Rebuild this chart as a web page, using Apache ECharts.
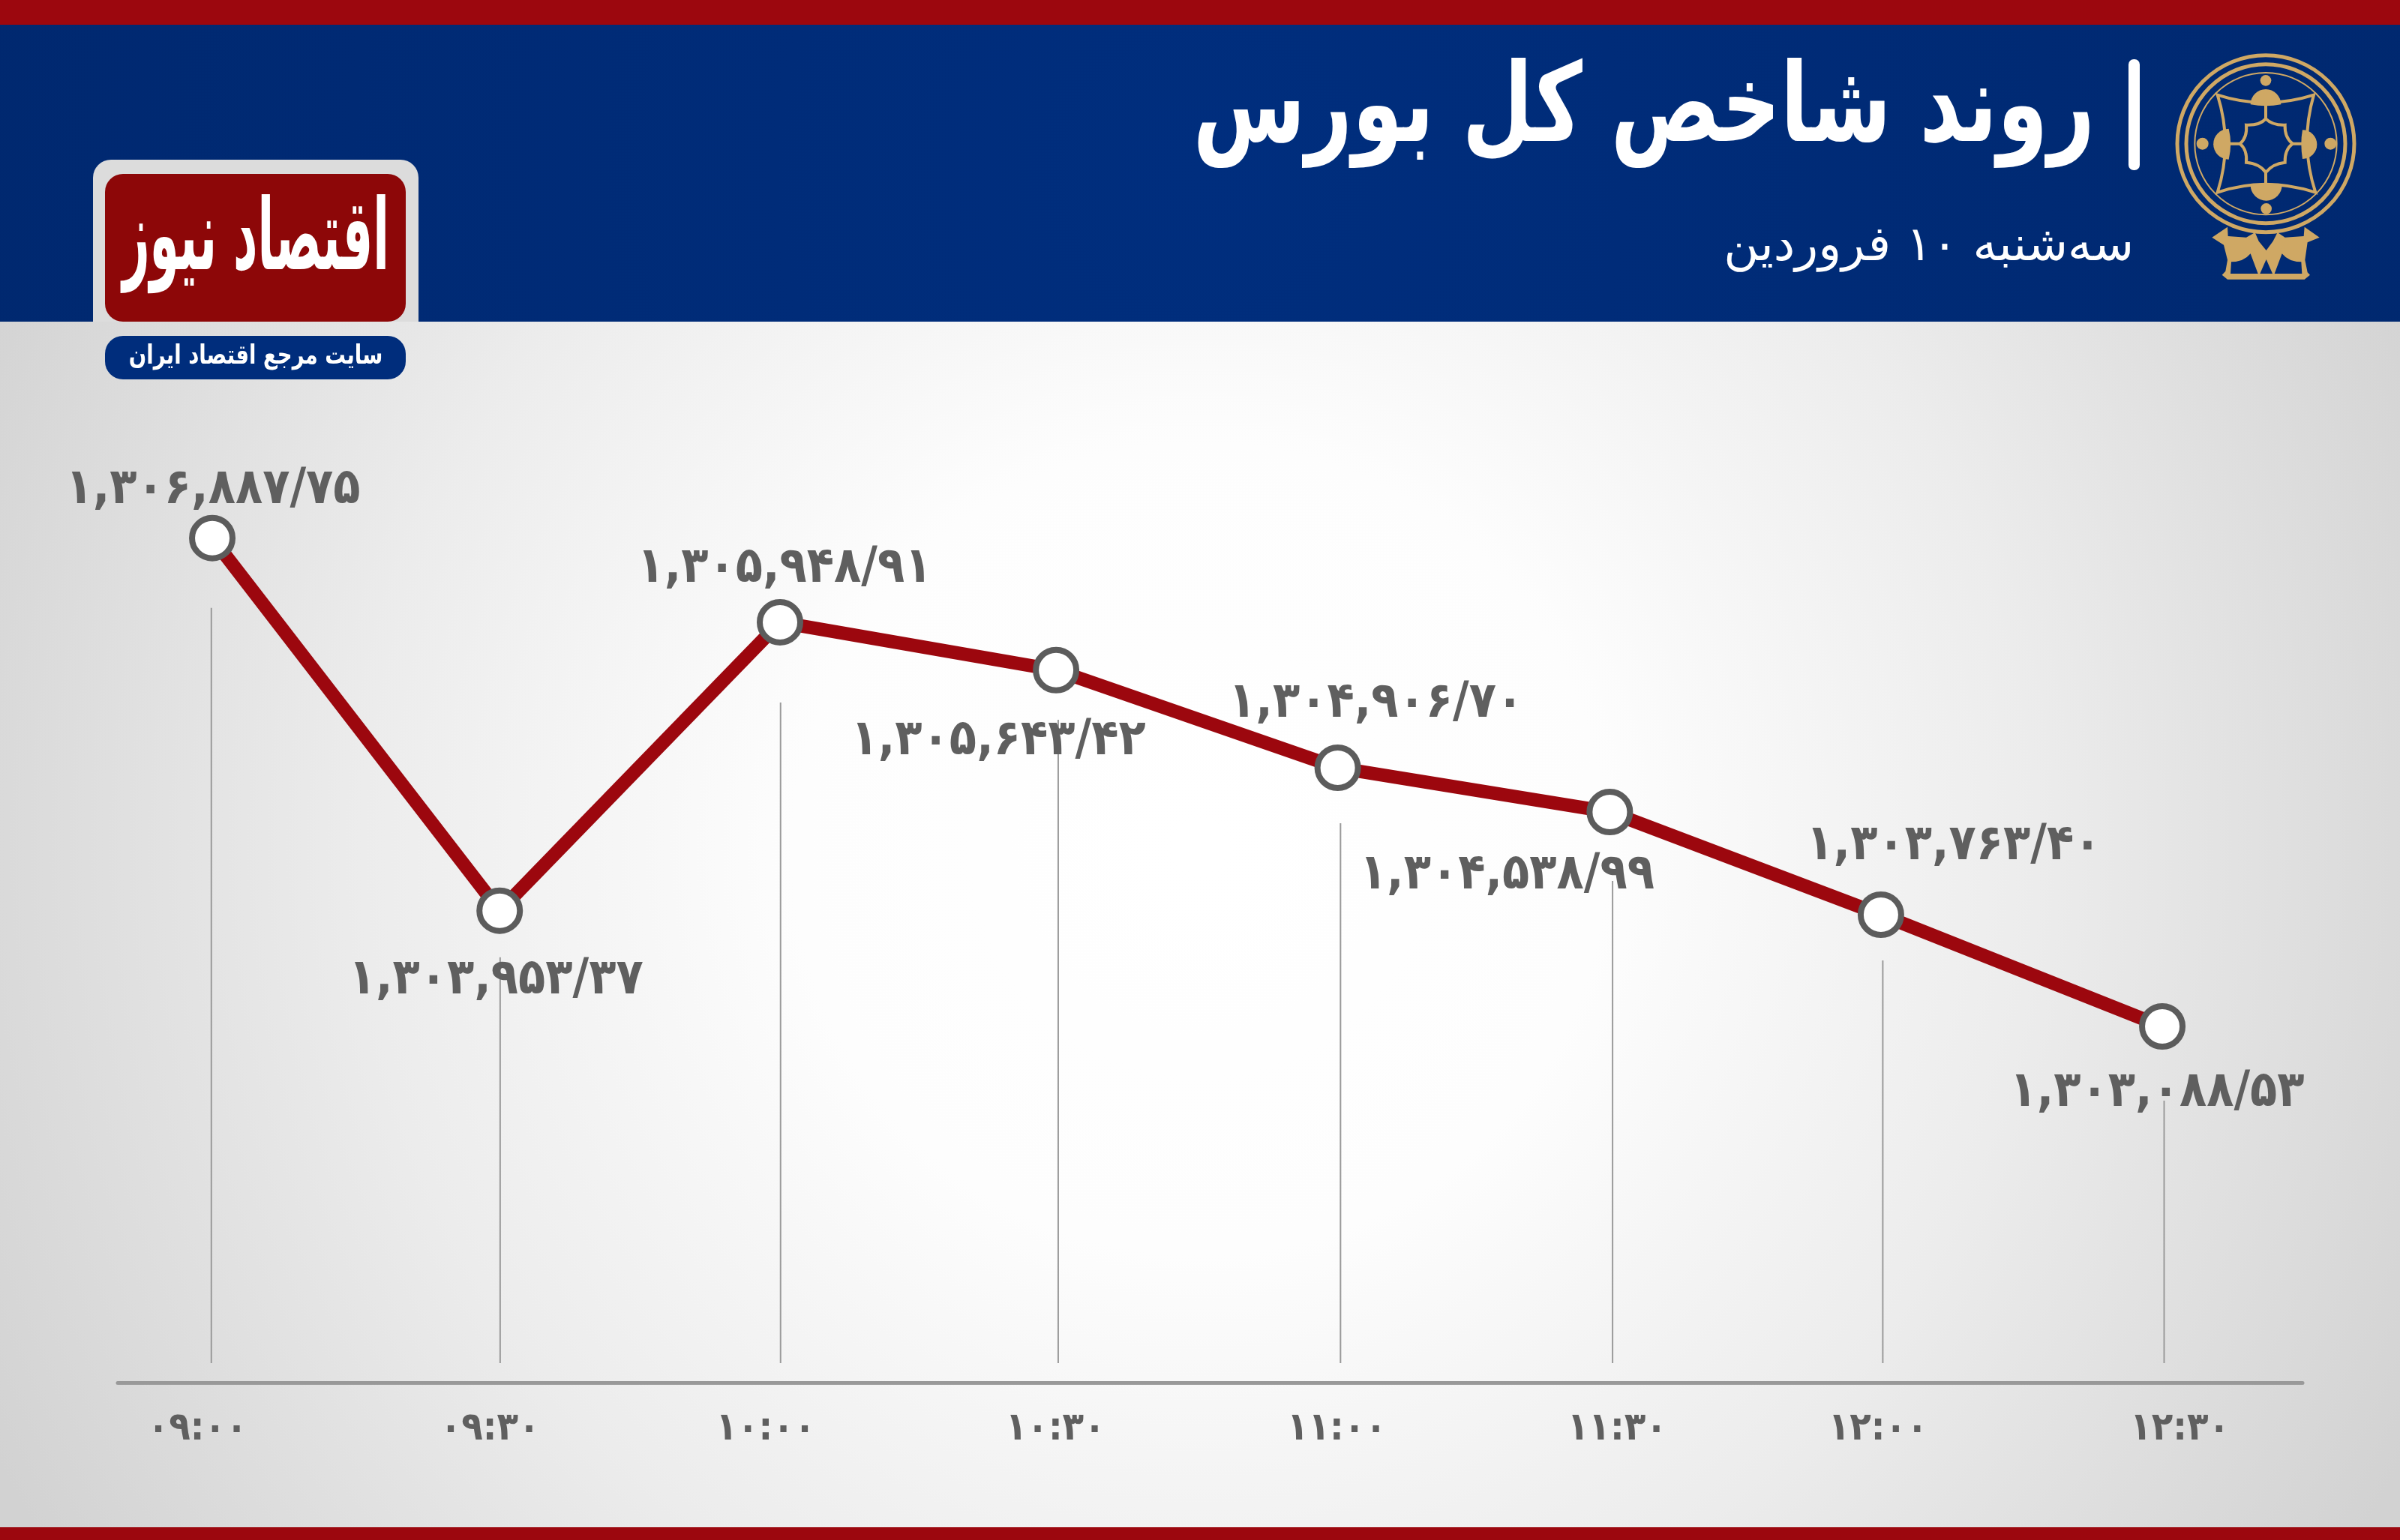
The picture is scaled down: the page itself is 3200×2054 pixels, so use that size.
<!DOCTYPE html>
<html><head><meta charset="utf-8">
<style>html,body{margin:0;padding:0;background:#fff}#c{width:3200px;height:2054px}</style>
<script src="https://cdn.jsdelivr.net/npm/echarts@6/dist/echarts.min.js"></script>
</head><body><div id="c"></div>
<script>
// Tick labels and printed values, as written on the picture
const tickLabels = ['۰۹:۰۰','۰۹:۳۰','۱۰:۰۰','۱۰:۳۰','۱۱:۰۰','۱۱:۳۰','۱۲:۰۰','۱۲:۳۰'];
const printedValues = ['۱,۳۰۶,۸۸۷/۷۵','۱,۳۰۳,۹۵۳/۳۷','۱,۳۰۵,۹۴۸/۹۱','۱,۳۰۵,۶۴۳/۴۲','۱,۳۰۴,۹۰۶/۷۰','۱,۳۰۴,۵۳۸/۹۹','۱,۳۰۳,۷۶۳/۴۰','۱,۳۰۳,۰۸۸/۵۳'];
// The picture's line is not drawn to a strict scale: these are the levels and
// times as drawn, read against the first and last printed values.
const drawnMinutes = [0, 30.95, 61.14, 90.87, 121.2, 150.5, 179.7, 210];
const drawnLevels = [1306887.75, 1303989, 1306233, 1305861, 1305101, 1304757, 1303958, 1303088.53];
const guideMinutes = [-0.1, 31.0, 61.2, 91.1, 121.5, 150.8, 179.9, 210.2];
const guideTops = [1306345, 1303627, 1305608, 1305474, 1304669, 1304220, 1303602, 1302511];
const guideBottom = 1300469;
const tickMinutes = [-1.6, 29.9, 59.6, 90.8, 121.1, 151.3, 179.4, 211.9];
const tickRaised = [true, false, false, true, true, true, true, false];

const titleText = 'روند شاخص کل بورس';
const subtitleText = '\u202Bسه‌شنبه ۱۰ فروردین\u202C';
const logoText = 'اقتصاد نیوز';
const sloganText = 'سایت مرجع اقتصاد ایران';

const labelOffsets = [[1,-64],[-5,93],[6,-71],[-77,95],[51,-85],[-137,85],[97,-91],[-7,89]];
const FONT = '"DejaVu Sans Condensed","DejaVu Sans",sans-serif';
const GOLD = '#cfa864', NAVY = '#002a74', RED = '#9c070e', GREY = '#5f5f5f';

const chart = echarts.init(document.getElementById('c'), null, {renderer:'canvas', width:3200, height:2054, devicePixelRatio:1});

let pathCount = 0;
function pathEl(d, style){
  const name = 'emblemPath' + (pathCount++);
  echarts.graphic.registerShape(name, echarts.graphic.extendPath(d, {}));
  return {type:name, style};
}
const emblemStroke = (d,w) => pathEl(d,{fill:'none', stroke:GOLD, lineWidth:w});
const emblemFill = (d,f) => pathEl(d,{fill:f||GOLD});
const ring = (r,w) => ({type:'circle', shape:{cx:423,cy:395,r}, style:{fill:'none', stroke:GOLD, lineWidth:w}});
const dot = (cx,cy,r) => ({type:'circle', shape:{cx,cy,r}, style:{fill:GOLD}});

chart.setOption({
  animation:false,
  backgroundColor:'#fff',
  graphic:[
    {type:'rect', z:-10, shape:{x:0,y:429,width:3200,height:1625}, style:{fill:{type:'radial',global:true,x:1600,y:1130,r:1800,colorStops:[{offset:0,color:'#ffffff'},{offset:0.3,color:'#fdfdfd'},{offset:0.62,color:'#ececec'},{offset:1,color:'#d2d2d2'}]}}},
    {type:'rect', z:-9, shape:{x:0,y:33,width:3200,height:396}, style:{fill:{type:'radial',global:true,x:1600,y:230,r:1700,colorStops:[{offset:0,color:'#002e7e'},{offset:1,color:'#00286f'}]}}},
    {type:'rect', z:-8, shape:{x:0,y:0,width:3200,height:33}, style:{fill:RED}},
    {type:'rect', z:-8, shape:{x:0,y:2037,width:3200,height:17}, style:{fill:RED}},
    // logo
    {type:'rect', z:-7, shape:{x:124,y:213,width:434,height:216,r:[24,24,0,0]}, style:{fill:'#dcdcdc'}},
    {type:'rect', z:-6, shape:{x:140,y:232,width:401,height:197,r:24}, style:{fill:'#8d0708'}},
    {type:'rect', z:-6, shape:{x:140,y:448,width:401,height:58,r:24}, style:{fill:'#002d7c'}},
    {type:'text', z:-5, x:341, y:325, scaleX:0.96, scaleY:2.0, style:{text:logoText, font:'bold 66px "DejaVu Sans"', fill:'#fff', align:'center', verticalAlign:'middle'}},
    {type:'text', z:-5, x:341, y:476, scaleX:0.86, scaleY:1.1, style:{text:sloganText, font:'bold 32px "DejaVu Sans"', fill:'#fff', align:'center', verticalAlign:'middle'}},
    // title and subtitle
    {type:'text', z:-5, x:2793, y:150, scaleX:0.724, scaleY:0.97, style:{text:titleText, font:'bold 150px "DejaVu Sans"', fill:'#fff', align:'right', verticalAlign:'middle'}},
    {type:'text', z:-5, x:2845, y:330, scaleX:1, scaleY:1, style:{text:subtitleText, font:'normal 64px "DejaVu Sans"', fill:'#fff', align:'right', verticalAlign:'middle'}},
    {type:'rect', z:-5, shape:{x:2838,y:79,width:15,height:148,r:7}, style:{fill:'#fff'}},
    // emblem
    {type:'group', z:-5, x:2880, y:60, scaleX:1/3, scaleY:1/3, children:[
      ring(354,15), ring(318,15), ring(284,6),
      emblemStroke('M230,200 Q420,262 615,200 Q558,395 622,590 Q420,525 230,590 Q292,395 230,200 Z',12),
      emblemStroke('M423,295 Q400,322 345,320 Q350,370 320,395 Q350,420 345,470 Q400,475 423,510 Q450,475 500,470 Q498,420 530,395 Q498,370 500,320 Q450,322 423,295 Z',12),
      emblemStroke('M423,240 L423,295 M423,510 L423,560 M275,395 L320,395 M530,395 L575,395',12),
      emblemFill('M362,238 A61,61 0 0 1 484,238 Q423,250 362,238 Z'),
      emblemFill('M362,560 A63,63 0 0 0 488,560 Q423,545 362,560 Z'),
      emblemFill('M275,335 A60,60 0 0 0 275,458 Q290,395 275,335 Z'),
      emblemFill('M570,340 A58,58 0 0 1 570,456 Q560,395 570,340 Z'),
      dot(423,142,22), dot(425,655,22), dot(170,395,24), dot(682,395,24),
      emblemFill('M208,770 L270,728 L272,765 L345,770 L380,750 L395,785 L425,822 L452,785 L470,750 L500,770 L575,765 L578,728 L638,770 L590,790 L580,860 L590,910 L600,920 L578,938 L270,938 L248,920 L262,905 L270,860 L255,800 Z'),
      emblemFill('M392,758 L452,758 L425,812 Z',NAVY),
      emblemFill('M285,868 Q335,868 362,835 L392,915 L282,915 Z',NAVY),
      emblemFill('M565,868 Q515,868 488,835 L458,915 L568,915 Z',NAVY),
      emblemFill('M400,915 L425,858 L450,915 Z',NAVY)
    ]}
  ],
  grid:{left:157, right:130, top:440, bottom:210, containLabel:false},
  xAxis:{
    type:'value', min:-10.18, max:225.1,
    splitLine:{show:false}, axisTick:{show:false},
    axisLine:{show:true, onZero:false, lineStyle:{color:'#999999', width:5}},
    axisLabel:{
      customValues:tickMinutes, margin:36, hideOverlap:false,
      showMinLabel:true, showMaxLabel:true,
      formatter:(v)=>{const i=tickMinutes.indexOf(v); return (tickRaised[i]?'{up|':'{dn|')+tickLabels[i]+'}';},
      rich:{
        up:{color:GREY, fontFamily:FONT, fontWeight:'bold', fontSize:52, padding:[0,0,16,0]},
        dn:{color:GREY, fontFamily:FONT, fontWeight:'bold', fontSize:52}
      }
    }
  },
  yAxis:{type:'value', min:1300318, max:1308507.6, show:false, splitLine:{show:false}},
  series:[
    {type:'custom', z:1, silent:true,
      data:guideMinutes.map((m,i)=>[m,guideTops[i],guideBottom]),
      encode:{x:0,y:[1,2]},
      renderItem:(p,api)=>{
        const a=api.coord([api.value(0),api.value(1)]), b=api.coord([api.value(0),api.value(2)]);
        return {type:'line', shape:{x1:a[0],y1:a[1],x2:b[0],y2:b[1]}, style:{stroke:'#9a9a9a', lineWidth:2}};
      }},
    {type:'line', z:3, smooth:false, showSymbol:true, symbol:'circle', symbolSize:54, silent:true,
      lineStyle:{color:RED, width:18, cap:'butt', join:'miter'},
      itemStyle:{color:'#fff', borderColor:'#5c5c5c', borderWidth:8},
      label:{show:true, position:'inside', color:GREY, fontFamily:FONT, fontWeight:'bold', fontSize:66},
      data:drawnMinutes.map((m,i)=>({value:[m,drawnLevels[i]],
        label:{offset:labelOffsets[i], formatter:printedValues[i]}}))
    }
  ]
});
</script></body></html>
